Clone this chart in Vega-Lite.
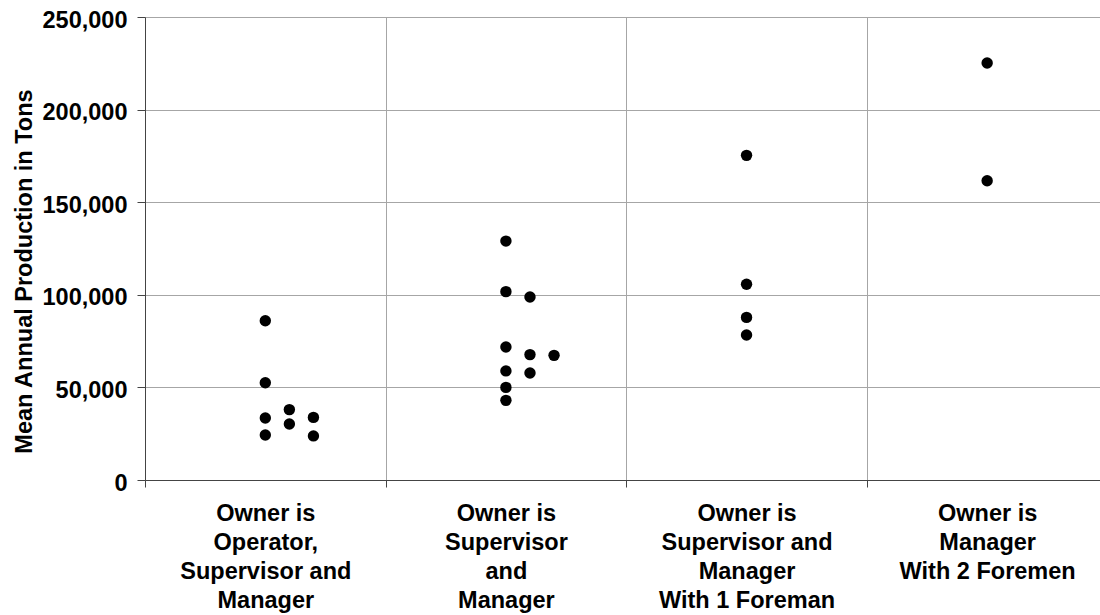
{
  "$schema": "https://vega.github.io/schema/vega-lite/v6.json",
  "width": 955,
  "height": 463,
  "autosize": {"type": "none"},
  "padding": {"left": 145, "top": 17, "right": 0, "bottom": 135},
  "background": "white",
  "config": {
    "view": {"stroke": null},
    "font": "Liberation Sans"
  },
  "data": {
    "values": [
      {"pos": 0.5, "tons": 86000},
      {"pos": 0.5, "tons": 52500},
      {"pos": 0.5, "tons": 33500},
      {"pos": 0.5, "tons": 24300},
      {"pos": 0.6, "tons": 38000},
      {"pos": 0.6, "tons": 30200},
      {"pos": 0.7, "tons": 33800},
      {"pos": 0.7, "tons": 23800},
      {"pos": 1.5, "tons": 129000},
      {"pos": 1.5, "tons": 101700},
      {"pos": 1.5, "tons": 71800},
      {"pos": 1.5, "tons": 58900},
      {"pos": 1.5, "tons": 50000},
      {"pos": 1.5, "tons": 43000},
      {"pos": 1.6, "tons": 98800},
      {"pos": 1.6, "tons": 67700},
      {"pos": 1.6, "tons": 57800},
      {"pos": 1.7, "tons": 67300},
      {"pos": 2.5, "tons": 175300},
      {"pos": 2.5, "tons": 105700},
      {"pos": 2.5, "tons": 87800},
      {"pos": 2.5, "tons": 78300},
      {"pos": 3.5, "tons": 225200},
      {"pos": 3.5, "tons": 161600}
    ]
  },
  "mark": {"type": "circle", "size": 130, "color": "black", "opacity": 1},
  "encoding": {
    "x": {
      "field": "pos",
      "type": "quantitative",
      "scale": {"domain": [0, 3.969], "nice": false, "zero": false},
      "axis": {
        "title": null,
        "values": [0, 0.5, 1, 1.5, 2, 2.5, 3, 3.5],
        "grid": true,
        "gridColor": "#a6a6a6",
        "gridWidth": 1,
        "gridOpacity": {"condition": {"test": "datum.value % 1 === 0", "value": 1}, "value": 0},
        "ticks": true,
        "tickSize": 7,
        "tickColor": "#444444",
        "tickOpacity": {"condition": {"test": "datum.value % 1 === 0", "value": 1}, "value": 0},
        "domainColor": "#444444",
        "domainWidth": 1,
        "labelExpr": "datum.value == 0.5 ? ['Owner is', 'Operator,', 'Supervisor and', 'Manager'] : datum.value == 1.5 ? ['Owner is', 'Supervisor', 'and', 'Manager'] : datum.value == 2.5 ? ['Owner is', 'Supervisor and', 'Manager', 'With 1 Foreman'] : datum.value == 3.5 ? ['Owner is', 'Manager', 'With 2 Foremen'] : ''",
        "labelFont": "Liberation Sans",
        "labelFontSize": 23.5,
        "labelFontWeight": "bold",
        "labelColor": "black",
        "labelAlign": "center",
        "labelBaseline": "top",
        "labelLineHeight": 29.3,
        "labelPadding": 14,
        "labelOverlap": false,
        "labelFlush": false,
        "labelBound": false
      }
    },
    "y": {
      "field": "tons",
      "type": "quantitative",
      "scale": {"domain": [0, 250000], "nice": false},
      "axis": {
        "title": "Mean Annual Production in Tons",
        "values": [0, 50000, 100000, 150000, 200000, 250000],
        "format": ",.0f",
        "grid": true,
        "gridColor": "#a6a6a6",
        "gridWidth": 1,
        "tickSize": 8,
        "tickColor": "#444444",
        "domainColor": "#444444",
        "domainWidth": 1,
        "labelFont": "Liberation Sans",
        "labelFontSize": 23.5,
        "labelFontWeight": "bold",
        "labelColor": "black",
        "labelPadding": 10,
        "labelOffset": 3,
        "labelBaseline": "middle",
        "labelOverlap": false,
        "labelFlush": false,
        "titleFont": "Liberation Sans",
        "titleFontSize": 23.5,
        "titleFontWeight": "bold",
        "titleColor": "black",
        "titleAngle": -90,
        "titleAlign": "center",
        "titleBaseline": "alphabetic",
        "titleX": -113.5,
        "titleY": 254
      }
    }
  }
}
